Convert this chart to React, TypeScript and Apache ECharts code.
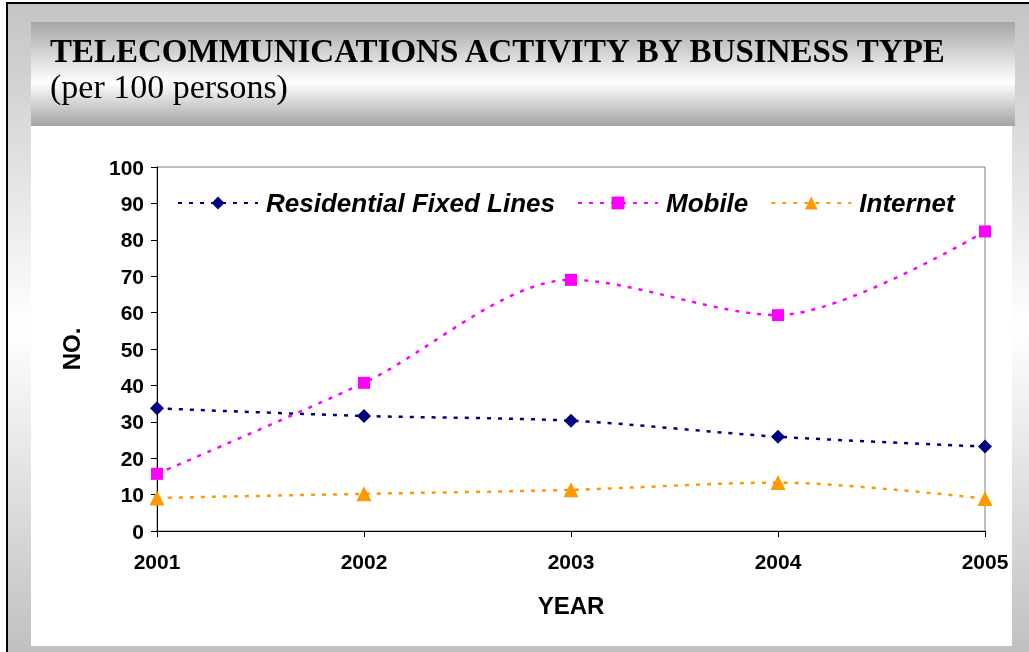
import React, { useEffect, useRef } from "react";
import * as echarts from "echarts";

const years = ["2001", "2002", "2003", "2004", "2005"];
const residential = [33.7, 31.6, 30.3, 25.9, 23.2];
const mobile = [15.7, 40.7, 69.0, 59.3, 82.3];
const internet = [9.1, 10.2, 11.3, 13.3, 8.9];
const seriesNames = ["Residential Fixed Lines", "Mobile", "Internet"];
const titleText = "TELECOMMUNICATIONS ACTIVITY BY BUSINESS TYPE";
const subtitleText = "(per 100 persons)";

export default function App() {
  const ref = useRef<HTMLDivElement>(null);
  useEffect(() => {
    if (!ref.current) return;
    const chart = echarts.init(ref.current, null, { renderer: "svg" });
    const grayGrad = (c1: string, c2: string, mid: number) =>
      new echarts.graphic.LinearGradient(0, 0, 0, 1, [
        { offset: 0, color: c1 },
        { offset: mid, color: "#ffffff" },
        { offset: 1, color: c2 },
      ]);
    const dash = [4, 7];
    chart.setOption({
      animation: false,
      graphic: [
        { type: "rect", z: -100, shape: { x: 0, y: 0, width: 1029, height: 652 }, style: { fill: "#ffffff" } },
        { type: "rect", z: -99, shape: { x: 8, y: 4, width: 1021, height: 648 }, style: { fill: grayGrad("#c4c4c4", "#c0c0c0", 0.5) } },
        { type: "rect", z: -98, shape: { x: 6, y: 2, width: 1023, height: 2 }, style: { fill: "#000000" } },
        { type: "rect", z: -98, shape: { x: 6, y: 2, width: 2, height: 650 }, style: { fill: "#000000" } },
        { type: "rect", z: -97, shape: { x: 31, y: 22, width: 984, height: 104 }, style: { fill: grayGrad("#a6a6a6", "#a4a4a4", 0.58) } },
        { type: "rect", z: -96, shape: { x: 31, y: 126, width: 981, height: 520 }, style: { fill: "#ffffff" } },
        {
          type: "text", z: 10, x: 50, y: 51,
          style: { text: titleText, font: "bold 33px 'Liberation Serif', serif", fill: "#000", verticalAlign: "middle", align: "left" },
        },
        {
          type: "text", z: 10, x: 50, y: 86,
          style: { text: subtitleText, font: "34px 'Liberation Serif', serif", fill: "#000", verticalAlign: "middle", align: "left" },
        },
      ],
      grid: {
        left: 157, right: 44, top: 167, bottom: 121,
        show: true, borderColor: "#808080", borderWidth: 1, backgroundColor: "transparent",
      },
      legend: {
        left: 172, top: 185,
        itemWidth: 80, itemHeight: 16, itemGap: 22,
        data: seriesNames,
        textStyle: { fontFamily: "'Liberation Sans', Arial, sans-serif", fontWeight: "bold", fontStyle: "italic", fontSize: 26, color: "#000", padding: [0, 0, 0, 3] },
      },
      xAxis: {
        type: "category", data: years, boundaryGap: false,
        axisLine: { lineStyle: { color: "#000", width: 1 } },
        axisTick: { show: true, length: 6, lineStyle: { color: "#000" } },
        axisLabel: { margin: 20, color: "#000", fontFamily: "'Liberation Sans', Arial, sans-serif", fontWeight: "bold", fontSize: 21 },
        name: "YEAR", nameLocation: "middle", nameGap: 62,
        nameTextStyle: { color: "#000", fontFamily: "'Liberation Sans', Arial, sans-serif", fontWeight: "bold", fontSize: 24 },
        splitLine: { show: false },
      },
      yAxis: {
        type: "value", min: 0, max: 100, interval: 10,
        axisLine: { show: true, lineStyle: { color: "#000", width: 1 } },
        axisTick: { show: true, length: 6, lineStyle: { color: "#000" } },
        axisLabel: { margin: 13, color: "#000", fontFamily: "'Liberation Sans', Arial, sans-serif", fontWeight: "bold", fontSize: 21 },
        name: "NO.", nameLocation: "middle", nameGap: 74, nameRotate: 90,
        nameTextStyle: { color: "#000", fontFamily: "'Liberation Sans', Arial, sans-serif", fontWeight: "bold", fontSize: 24 },
        splitLine: { show: false },
      },
      series: [
        {
          name: seriesNames[0], type: "line", data: residential, smooth: 0.3,
          symbol: "diamond", symbolSize: 14,
          itemStyle: { color: "#000080" },
          lineStyle: { color: "#000080", width: 2.5, type: dash },
        },
        {
          name: seriesNames[1], type: "line", data: mobile, smooth: 0.3,
          symbol: "rect", symbolSize: 12,
          itemStyle: { color: "#FF00FF" },
          lineStyle: { color: "#FF00FF", width: 2.5, type: dash },
        },
        {
          name: seriesNames[2], type: "line", data: internet, smooth: 0.3,
          symbol: "triangle", symbolSize: 15,
          itemStyle: { color: "#FF9900" },
          lineStyle: { color: "#FF9900", width: 2.5, type: dash },
        },
      ],
    });
    return () => chart.dispose();
  }, []);
  return <div ref={ref} style={{ position: "fixed", left: 0, top: 0, width: 1029, height: 652 }} />;
}
